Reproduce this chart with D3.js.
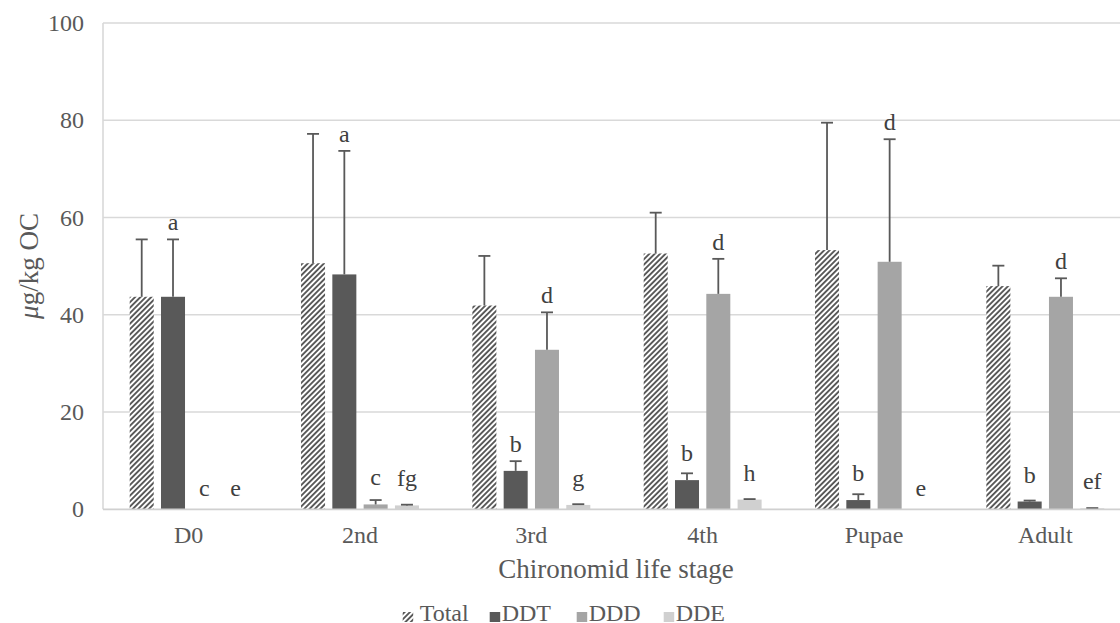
<!DOCTYPE html>
<html>
<head>
<meta charset="utf-8">
<script src="https://cdn.jsdelivr.net/npm/d3@7"></script>
<style>
  html, body { margin: 0; padding: 0; background: #fff; }
  svg { display: block; font-family: "Liberation Serif", "Times New Roman", serif; }
</style>
</head>
<body>
<svg id="chart" width="1120" height="623"></svg>
<script>
// Life stages on the x axis and the four residue series
const stages = ["D0", "2nd", "3rd", "4th", "Pupae", "Adult"];
const seriesNames = ["Total", "DDT", "DDD", "DDE"];

// Means (µg/kg OC) and upper error bars
const total    = [43.7, 50.6, 41.9, 52.6, 53.3, 45.9];
const totalErr = [11.8, 26.6, 10.2,  8.4, 26.2,  4.2];
const ddt      = [43.7, 48.3,  7.9,  6.0,  1.9,  1.6];
const ddtErr   = [11.8, 25.4,  2.0,  1.4,  1.2,  0.2];
const ddd      = [0.0,  1.0, 32.8, 44.3, 50.9, 43.7];
const dddErr   = [0.0,  0.9,  7.7,  7.2, 25.2,  3.8];
const dde      = [0.0,  0.8,  0.9,  2.0,  0.0,  0.2];
const ddeErr   = [0.0,  0.15, 0.15, 0.1,  0.0,  0.05];

// Significance letters (none for Total)
const ddtLetters = ["a", "a", "b", "b", "b", "b"];
const dddLetters = ["c", "c", "d", "d", "d", "d"];
const ddeLetters = ["e", "fg", "g", "h", "e", "ef"];

const yTicks = [0, 20, 40, 60, 80, 100];

const seriesValues = [total, ddt, ddd, dde];
const seriesErrors = [totalErr, ddtErr, dddErr, ddeErr];
const seriesLetters = [null, ddtLetters, dddLetters, ddeLetters];

const textColor = "#595959";
const fills = { Total: "url(#hatch)", DDT: "#595959", DDD: "#a5a5a5", DDE: "#d0d0d0" };

const svg = d3.select("#chart");

// Plot area (the category band continues past the right edge of the canvas)
const plot = { left: 103, top: 23, bottom: 509.3, bandW: 171.33 };

const defs = svg.append("defs");
const pat = defs.append("pattern")
  .attr("id", "hatch")
  .attr("patternUnits", "userSpaceOnUse")
  .attr("width", 3.8).attr("height", 3.8)
  .attr("patternTransform", "rotate(45)");
pat.append("rect").attr("width", 3.8).attr("height", 3.8).attr("fill", "#fff");
pat.append("rect").attr("width", 1.9).attr("height", 3.8).attr("fill", "#595959");

const x0 = d3.scaleBand()
  .domain(stages)
  .range([plot.left, plot.left + plot.bandW * stages.length])
  .paddingInner(0).paddingOuter(0);

const x1 = d3.scaleBand()
  .domain(seriesNames)
  .range([0, x0.bandwidth()])
  .paddingInner(0.233)
  .paddingOuter(0.853);

const y = d3.scaleLinear().domain([0, 100]).range([plot.bottom, plot.top]);

// Horizontal gridlines
svg.append("g")
  .selectAll("line")
  .data(yTicks.filter(t => t > 0))
  .join("line")
  .attr("x1", plot.left).attr("x2", 1120)
  .attr("y1", d => y(d)).attr("y2", d => y(d))
  .attr("stroke", "#d9d9d9").attr("stroke-width", 1.6);

// Left axis line and baseline
svg.append("line")
  .attr("x1", plot.left).attr("x2", plot.left)
  .attr("y1", y(100)).attr("y2", y(0))
  .attr("stroke", "#d9d9d9").attr("stroke-width", 1.6);

// Y axis tick labels
const yAxis = d3.axisLeft(y).tickValues(yTicks).tickSize(0).tickPadding(19);
const gy = svg.append("g").attr("transform", `translate(${plot.left},0)`).call(yAxis);
gy.select(".domain").remove();
gy.selectAll("text")
  .attr("fill", textColor)
  .style("font-size", "24px")
  .style("font-family", "Liberation Serif");

// Bars
const groups = svg.append("g").selectAll("g")
  .data(stages)
  .join("g")
  .attr("transform", d => `translate(${x0(d)},0)`);

const barData = (stage, i) => seriesNames.map((s, k) => ({
  series: s,
  value: seriesValues[k][i],
  err: seriesErrors[k][i],
  letter: seriesLetters[k] ? seriesLetters[k][i] : null
}));

groups.each(function (stage, i) {
  const g = d3.select(this);
  const data = barData(stage, i);

  g.selectAll("rect.bar")
    .data(data.filter(d => d.value > 0))
    .join("rect")
    .attr("class", "bar")
    .attr("x", d => x1(d.series))
    .attr("y", d => y(d.value))
    .attr("width", x1.bandwidth())
    .attr("height", d => y(0) - y(d.value))
    .attr("fill", d => fills[d.series]);

  // Upper error bars
  const eb = data.filter(d => d.value > 0 && d.err > 0);
  const capHalf = 6;
  g.selectAll("line.err")
    .data(eb)
    .join("line")
    .attr("class", "err")
    .attr("x1", d => x1(d.series) + x1.bandwidth() / 2)
    .attr("x2", d => x1(d.series) + x1.bandwidth() / 2)
    .attr("y1", d => y(d.value))
    .attr("y2", d => y(d.value + d.err))
    .attr("stroke", textColor).attr("stroke-width", 1.8);
  g.selectAll("line.cap")
    .data(eb)
    .join("line")
    .attr("class", "cap")
    .attr("x1", d => x1(d.series) + x1.bandwidth() / 2 - capHalf)
    .attr("x2", d => x1(d.series) + x1.bandwidth() / 2 + capHalf)
    .attr("y1", d => y(d.value + d.err))
    .attr("y2", d => y(d.value + d.err))
    .attr("stroke", textColor).attr("stroke-width", 1.8);

  // Significance letters above each bar
  g.selectAll("text.letter")
    .data(data.filter(d => d.letter))
    .join("text")
    .attr("class", "letter")
    .attr("x", d => x1(d.series) + x1.bandwidth() / 2)
    .attr("y", d => {
      if (d.value <= 0) return y(0) - 13;
      return Math.min(y(d.value + d.err) - 9, y(d.value) - 19);
    })
    .attr("text-anchor", "middle")
    .attr("fill", "#404040")
    .style("font-size", "24px")
    .text(d => d.letter);
});

// Baseline drawn over the bars' bottom edge
svg.append("line")
  .attr("x1", plot.left).attr("x2", 1120)
  .attr("y1", y(0)).attr("y2", y(0))
  .attr("stroke", "#d0d0d0").attr("stroke-width", 1.8);

// X axis category labels
const xAxis = d3.axisBottom(x0).tickSize(0).tickPadding(17);
const gx = svg.append("g").attr("transform", `translate(0,${y(0)})`).call(xAxis);
gx.select(".domain").remove();
gx.selectAll("text")
  .attr("fill", textColor)
  .style("font-size", "24px")
  .style("font-family", "Liberation Serif");

// Axis titles
svg.append("text")
  .attr("x", 616).attr("y", 578)
  .attr("text-anchor", "middle")
  .attr("fill", textColor)
  .style("font-size", "27px")
  .text("Chironomid life stage");

const yTitle = svg.append("text")
  .attr("transform", "translate(38,266) rotate(-90)")
  .attr("text-anchor", "middle")
  .attr("fill", textColor)
  .style("font-size", "27px");
yTitle.append("tspan").style("font-style", "italic").text("μ");
yTitle.append("tspan").text("g/kg OC");

// Legend
const legend = svg.append("g").attr("transform", "translate(402.7,0)");
const li = legend.selectAll("g")
  .data(seriesNames)
  .join("g")
  .attr("transform", (d, i) => `translate(${i * 87},0)`);
li.append("rect")
  .attr("x", 0).attr("y", 612)
  .attr("width", 10.5).attr("height", 10)
  .attr("fill", d => fills[d]);
li.append("text")
  .attr("x", (d, i) => i === 0 ? 17 : 12)
  .attr("y", 621)
  .attr("fill", textColor)
  .style("font-size", "24px")
  .text(d => d);
</script>
</body>
</html>
